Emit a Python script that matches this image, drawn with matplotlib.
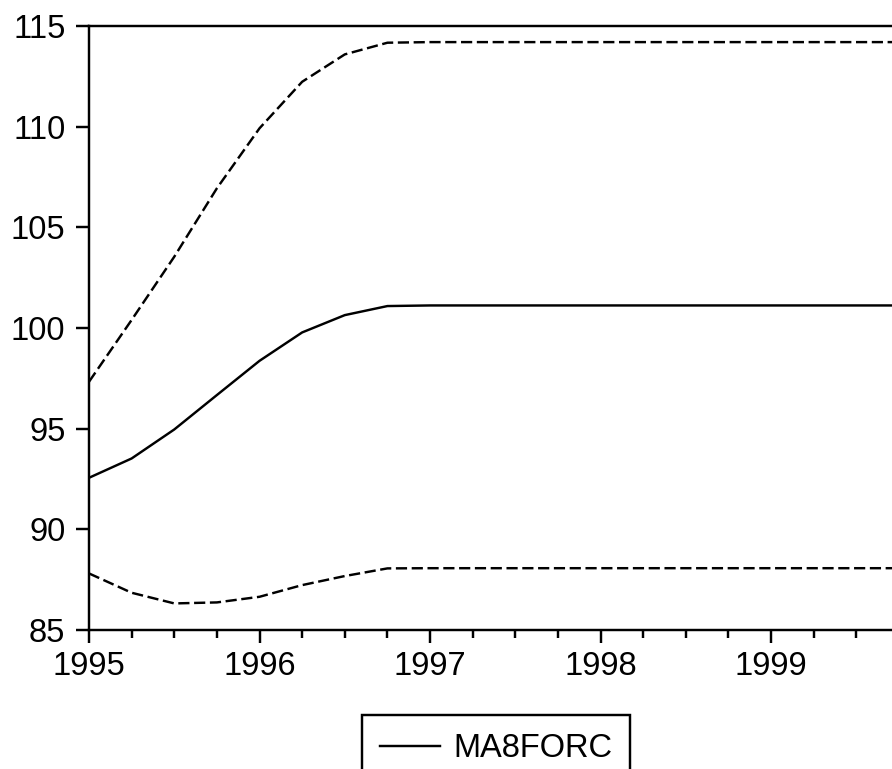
import matplotlib
matplotlib.use('Agg')
import matplotlib.pyplot as plt
import numpy as np
from matplotlib.ticker import FixedLocator

# ==========================================
# DATA (quarterly, 1995Q1 - 1999Q4)
# ==========================================

quarters = np.arange(1995, 2000, 0.25)

ma8forc = [92.56, 93.52, 94.96, 96.67, 98.37, 99.78, 100.64, 101.09,
           101.12, 101.12, 101.12, 101.12, 101.12, 101.12, 101.12, 101.12,
           101.12, 101.12, 101.12, 101.12]

upper_se = [97.33, 100.40, 103.54, 106.94, 109.92, 112.23, 113.59, 114.17,
            114.20, 114.20, 114.20, 114.20, 114.20, 114.20, 114.20, 114.20,
            114.20, 114.20, 114.20, 114.20]

lower_se = [87.81, 86.85, 86.32, 86.37, 86.65, 87.23, 87.68, 88.06,
            88.07, 88.07, 88.07, 88.07, 88.07, 88.07, 88.07, 88.07,
            88.07, 88.07, 88.07, 88.07]

year_ticks = [1995, 1996, 1997, 1998, 1999]
y_ticks = [85, 90, 95, 100, 105, 110, 115]

# ==========================================
# FIGURE
# ==========================================

plt.rcParams['font.family'] = ['Liberation Sans', 'DejaVu Sans']

fig = plt.figure(figsize=(8.92, 7.69), dpi=100)
ax = fig.add_axes([89 / 892, 1 - 630 / 769, 810 / 892, 604 / 769])

lw = 1.75
dash = (0, (4.6, 1.9))
ax.plot(quarters, ma8forc, color='black', lw=lw, label='MA8FORC')
ax.plot(quarters, upper_se, color='black', lw=lw, linestyle=dash)
ax.plot(quarters, lower_se, color='black', lw=lw, linestyle=dash)

ax.set_xlim(1995, 1999.75)
ax.set_ylim(85, 115)

ax.set_xticks(year_ticks)
ax.set_xticklabels([str(y) for y in year_ticks])
ax.xaxis.set_minor_locator(FixedLocator(quarters))
ax.set_yticks(y_ticks)

ax.tick_params(axis='both', which='major', direction='out', length=9.5,
               width=lw, labelsize=23.5, color='black')
ax.tick_params(axis='x', which='major', pad=5.5)
ax.tick_params(axis='y', which='major', pad=7.5)
ax.tick_params(axis='x', which='minor', direction='out', length=6,
               width=lw)

for side in ['left', 'bottom', 'top', 'right']:
    ax.spines[side].set_linewidth(lw)
    ax.spines[side].set_color('black')

# ==========================================
# LEGEND
# ==========================================

leg = fig.legend(
    loc='upper left',
    bbox_to_anchor=(362 / 892, 1 - 715 / 769),
    fontsize=23.5,
    frameon=True,
    fancybox=False,
    framealpha=1,
    handlelength=1.85,
    handletextpad=0.4,
    borderpad=0.55,
    borderaxespad=0,
)
leg.get_frame().set_edgecolor('black')
leg.get_frame().set_linewidth(lw)

plt.savefig("out.png", dpi=100)
plt.close()
